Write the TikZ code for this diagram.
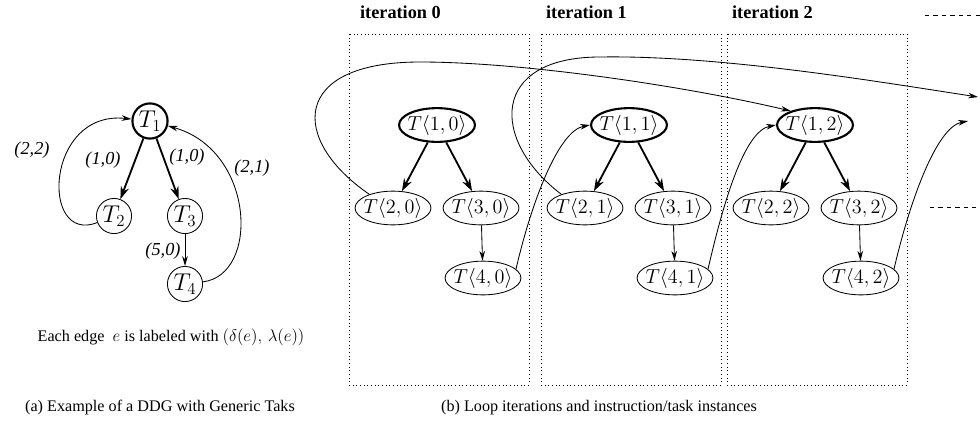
\documentclass[tikz,border=0pt]{standalone}
\usepackage{fontspec}
\setmainfont{Liberation Serif}
\usetikzlibrary{arrows.meta, shapes.geometric}

\begin{document}
\begin{tikzpicture}[x=0.025cm, y=-0.025cm, line width=0.6pt,
  >={Stealth[length=7pt, width=4pt]},
  task/.style={circle, draw, minimum size=25pt, inner sep=0pt, font=\fontsize{17}{19}\selectfont},
  inst/.style={ellipse, draw, minimum width=54pt, minimum height=24pt, inner xsep=-3pt, inner ysep=0pt, font=\fontsize{14.5}{16}\selectfont},
  head/.style={line width=1.5pt},
  thickarrow/.style={line width=1.3pt, -{Stealth[length=9pt, width=6pt]}},
  dep/.style={font=\itshape\fontsize{13}{15}\selectfont},
  iterbox/.style={draw, dotted},
  title/.style={font=\bfseries\fontsize{13}{15}\selectfont, anchor=west},
  caption/.style={font=\fontsize{11.5}{14}\selectfont}]

\useasboundingbox (0,0) rectangle (980,441);

% (a) generic DDG
\path (150,121) node[task, head] (v1) {$T_1$}
      (114,216) node[task] (v2) {$T_2$}
      (185,216) node[task] (v3) {$T_3$}
      (185,284) node[task] (v4) {$T_4$};

\draw[thickarrow] (v1) -- (v2);
\draw[thickarrow] (v1) -- (v3);
\draw[->] (v3) -- (v4);
\draw[->] (v2) .. controls (40,245) and (45,110) .. (v1);
\draw[->] (v4) .. controls (260,275) and (255,150) .. (v1);

\node[dep] (l22) at (32,150) {(2,2)};
\node[dep] (l12) at (103,160) {(1,0)};
\node[dep] (l13) at (187,157) {(1,0)};
\node[dep] (l34) at (163,251) {(5,0)};
\node[dep] (l41) at (252,168) {(2,1)};

\node[font=\fontsize{11.5}{13}\selectfont] (note) at (171,337) {Each edge\enspace $e$ is labeled with $(\delta(e),\,\lambda(e))$};

% (b) unrolled iterations
\foreach \i/\bx/\tx in {0/349/355, 1/541/541, 2/727/727} {
  \draw[iterbox] (\bx,34) rectangle (\bx+180,385);
  \node[title] (it\i) at (\tx,12) {iteration \i};
  \path (\bx+88,125) node[inst, head] (t1-\i) {$T\langle 1,\i\rangle$}
        (\bx+44,208) node[inst] (t2-\i) {$T\langle 2,\i\rangle$}
        (\bx+132,208) node[inst] (t3-\i) {$T\langle 3,\i\rangle$}
        (\bx+134,278) node[inst] (t4-\i) {$T\langle 4,\i\rangle$};
  \draw[thickarrow] (t1-\i) -- (t2-\i);
  \draw[thickarrow] (t1-\i) -- (t3-\i);
  \draw[->] (t3-\i) -- (t4-\i);
}

\coordinate (nx) at (968,121);
\coordinate (far) at (978,97);

\foreach \i/\e in {0/t1-1.west, 1/t1-2.west, 2/nx}
  \draw[->] (t4-\i.15) .. controls +(15,-65) and +(-32,6) .. (\e);

\draw[->] (t2-0.150) .. controls (290,140) and (290,62) .. (420,62)
          .. controls (520,62) and (680,85) .. (t1-2.150);
\draw[->] (t2-1.150) .. controls (490,140) and (490,57) .. (600,57)
          .. controls (720,55) and (880,82) .. (far);

\draw[dashed] (925,15) -- (980,15);
\draw[dashed] (930,207) -- (980,207);

\node[caption] (capa) at (160,408) {(a) Example of a DDG with Generic Taks};
\node[caption] (capb) at (599,408) {(b) Loop iterations and instruction/task instances};
\end{tikzpicture}
\end{document}
